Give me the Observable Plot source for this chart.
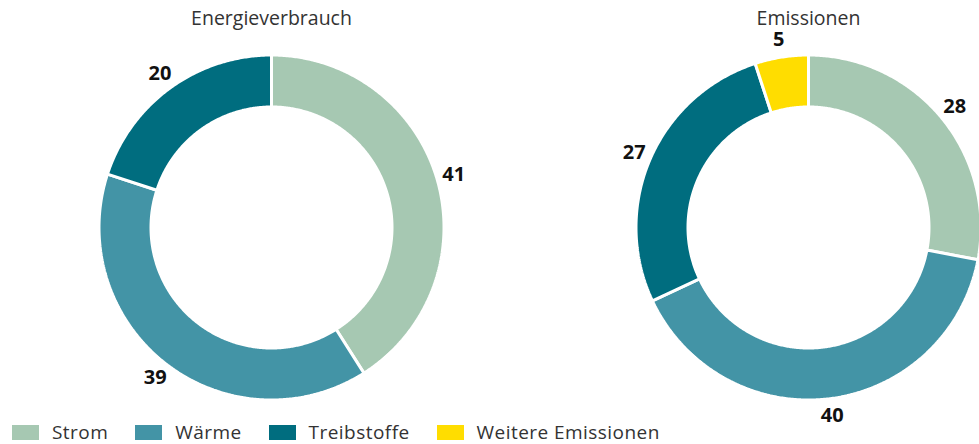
<!DOCTYPE html>
<html>
<head>
<meta charset="utf-8">
<script src="https://cdn.jsdelivr.net/npm/d3@7"></script>
<script src="https://cdn.jsdelivr.net/npm/@observablehq/plot@0.6"></script>
<style>
  body { margin: 0; background: #fff; font-family: "Open Sans", sans-serif; }
  #chart { width: 979px; height: 444px; position: relative; overflow: hidden; }
  #chart > svg { position: absolute; left: 0; top: 0; }
  #chart > .lg-swatches { position: absolute !important; left: 0; top: 419px; margin: 0 !important; padding-left: 12px !important; }
  .lg-swatches-wrap { min-height: 26px !important; font-family: "Open Sans", sans-serif !important; font-size: 19px !important; letter-spacing: 0.45px; color: #333 !important; }
  .lg-swatch { margin-right: 27px !important; }
  .lg-swatch > svg { margin-right: 13px !important; }
</style>
</head>
<body>
<div id="chart"></div>
<script>
// ---- data ----
const categories = ["Strom", "Wärme", "Treibstoffe", "Weitere Emissionen"];
const colors = ["#a6c8b2", "#4394a6", "#006d7f", "#ffdd00"];
const chartTitles = ["Energieverbrauch", "Emissionen"];
const energieverbrauch = [41, 39, 20];
const emissionen = [28, 40, 27, 5];

// ---- layout ----
const W = 979, H = 444;
const R = 171;              // px per unit (outer radius)
const cy = 227;             // centre y in px
const centersPx = [271, 808];
const gap = 3;              // white separator width
const rOuter = (R + gap / 2) / R;
const rInner = (122 - gap / 2) / R;
const rLabel = 1.11;
const rTitle = (cy - 18) / R;

const series = [energieverbrauch, emissionen];
const pie = d3.pie().sort(null).value(d => d.value);
const polys = [], labels = [], titles = [];

series.forEach((vals, ci) => {
  const cx = (centersPx[ci] - centersPx[0]) / R;
  titles.push({x: cx, y: rTitle, text: chartTitles[ci]});
  const arcs = pie(vals.map((v, i) => ({cat: categories[i], value: v})));
  arcs.forEach(a => {
    const key = chartTitles[ci] + "|" + a.data.cat;
    const a0 = a.startAngle, a1 = a.endAngle;
    const n = Math.max(2, Math.ceil((a1 - a0) / (Math.PI / 360)));
    const pts = [];
    for (let k = 0; k <= n; k++) {
      const t = a0 + (a1 - a0) * k / n;
      pts.push({key, cat: a.data.cat, x: cx + rOuter * Math.sin(t), y: rOuter * Math.cos(t)});
    }
    for (let k = n; k >= 0; k--) {
      const t = a0 + (a1 - a0) * k / n;
      pts.push({key, cat: a.data.cat, x: cx + rInner * Math.sin(t), y: rInner * Math.cos(t)});
    }
    pts.push({...pts[0]});
    polys.push(...pts);
    const m = (a0 + a1) / 2;
    labels.push({x: cx + rLabel * Math.sin(m), y: rLabel * Math.cos(m), text: String(a.data.value)});
  });
});

const chart = Plot.plot({
  width: W,
  height: H,
  margin: 0,
  style: {fontFamily: "Open Sans, sans-serif", background: "transparent"},
  x: {domain: [-centersPx[0] / R, (W - centersPx[0]) / R], axis: null},
  y: {domain: [-(H - cy) / R, cy / R], axis: null},
  color: {domain: categories, range: colors},
  marks: [
    Plot.line(polys, {x: "x", y: "y", z: "key", fill: "cat", stroke: "white", strokeWidth: gap, strokeLinejoin: "miter", curve: "linear"}),
    Plot.text(labels, {x: "x", y: "y", text: "text", fontSize: 20, fontWeight: "bold", fill: "#111"}),
    Plot.text(titles, {x: "x", y: "y", text: "text", fontSize: 19.5, fill: "#333", style: "letter-spacing:0.5px"})
  ]
});

const legend = Plot.legend({
  color: {domain: categories, range: colors},
  legend: "swatches",
  swatchWidth: 27,
  swatchHeight: 15,
  className: "lg"
});

const root = document.getElementById("chart");
root.appendChild(chart);
root.appendChild(legend);
</script>
</body>
</html>
